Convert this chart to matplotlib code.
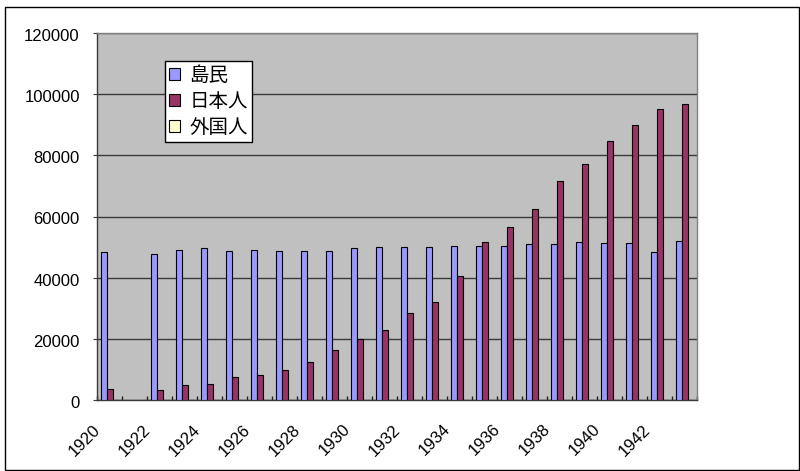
import matplotlib
matplotlib.use("Agg")
import matplotlib.pyplot as plt
import matplotlib.transforms as mtransforms
from matplotlib.patches import Rectangle
import numpy as np

years = list(range(1920, 1944))
nan = float("nan")
islanders = [48300, nan, 47900, 49100, 49600, 48700, 49100, 48700, 48700, 48700,
             49600, 50000, 50000, 50000, 50400, 50400, 50400, 50900, 50900, 51700,
             51300, 51300, 48400, 52100]
japanese = [3700, nan, 3300, 4900, 5300, 7500, 8300, 9900, 12500, 16200,
            20000, 22900, 28300, 32100, 40400, 51700, 56700, 62500, 71600, 77100,
            84700, 90000, 95300, 96700]
foreigners = [0, nan, 0, 0, 0, 0, 0, 0, 0, 0,
              0, 0, 0, 0, 0, 0, 0, 0, 0, 0,
              0, 0, 0, 0]
series_names = ["島民", "日本人", "外国人"]
colors = ["#9999FF", "#993366", "#FFFFCC"]
y_ticks = [0, 20000, 40000, 60000, 80000, 100000, 120000]

plt.rcParams["font.family"] = ["Liberation Sans", "DejaVu Sans"]

W, H = 800, 471
fig = plt.figure(figsize=(W / 100, H / 100), dpi=100)
ax = fig.add_axes([97 / W, 1 - 400 / H, 600 / W, 367 / H])
ax.set_facecolor("#C0C0C0")

x = np.arange(len(years))
w = 0.24
for i, (vals, name, c) in enumerate(zip([islanders, japanese, foreigners], series_names, colors)):
    ax.bar(x + (i - 1) * w, vals, width=w, color=c, edgecolor="black",
           linewidth=0.8, label=name, zorder=3)

ax.set_xlim(-0.5, len(years) - 0.5)
ax.set_ylim(0, 120000)
ax.set_yticks(y_ticks)
ax.set_yticklabels([str(v) for v in y_ticks], fontsize=12)
ax.yaxis.grid(True, color="#3a3a3a", linewidth=1, zorder=1)
ax.set_axisbelow(True)
ax.tick_params(axis="y", direction="out", length=3, color="#3a3a3a", pad=9.4)
shift_y = mtransforms.ScaledTranslation(0, -2 / 100, fig.dpi_scale_trans)
for lab in ax.get_yticklabels():
    lab.set_transform(lab.get_transform() + shift_y)

# year labels on every second category, boundary ticks between categories
ax.set_xticks(x[::2])
ax.set_xticklabels([str(y) for y in years[::2]], rotation=45,
                   ha="right", va="center", rotation_mode="anchor", fontsize=12)
ax.tick_params(axis="x", which="major", length=0, pad=0)
shift_x = mtransforms.ScaledTranslation(-11.5 / 100, -27 / 100, fig.dpi_scale_trans)
for lab in ax.get_xticklabels():
    lab.set_transform(lab.get_transform() + shift_x)
ax.set_xticks(np.arange(-0.5, len(years)), minor=True)
ax.tick_params(axis="x", which="minor", direction="in", length=3,
               color="#202020", width=1)

for side in ["left", "bottom"]:
    ax.spines[side].set_color("#3a3a3a")
    ax.spines[side].set_linewidth(1)
for side in ["top", "right"]:
    ax.spines[side].set_color("#808080")
    ax.spines[side].set_linewidth(1)

leg = ax.legend(loc="upper left", bbox_to_anchor=(68 / 600, 1 - 28 / 367),
                prop={"family": ["Noto Sans CJK JP", "DejaVu Sans"], "size": 14},
                frameon=True, fancybox=False, edgecolor="black", framealpha=1,
                borderpad=0.2, labelspacing=0.25, handlelength=0.55,
                handleheight=0.55, handletextpad=0.5, borderaxespad=0)
leg.get_frame().set_linewidth(1)

fig.patches.append(Rectangle((5 / W, 1 / H), (W - 6) / W, (H - 8) / H,
                             transform=fig.transFigure, fill=False,
                             edgecolor="black", linewidth=1))

fig.savefig("out.png", dpi=100)
